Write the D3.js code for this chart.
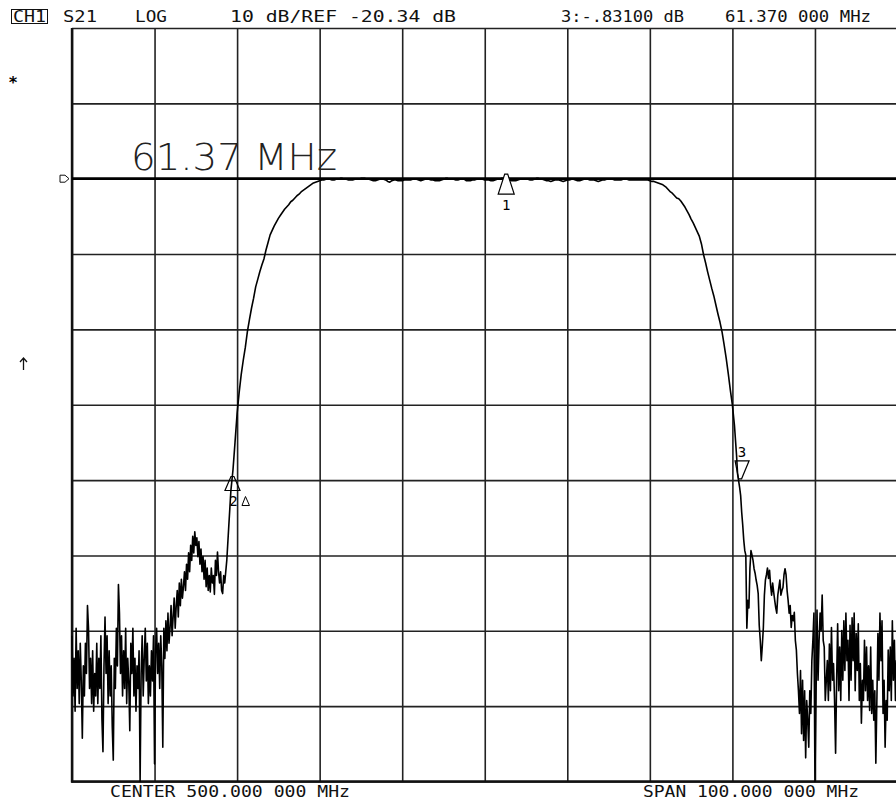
<!DOCTYPE html>
<html><head><meta charset="utf-8">
<script src="https://cdn.jsdelivr.net/npm/d3@7"></script>
<style>html,body{margin:0;padding:0;background:#fff;} svg{display:block;}</style>
</head><body>
<svg id="chart" width="896" height="804"></svg>
<script>
// ---- instrument settings ----
const startMHz = 450, stopMHz = 550;
const refLevelDb = -20.34, dbPerDiv = 10;
const topDb = -0.34, bottomDb = -100.34;

// ---- grid (10 x 10 divisions) ----
const xGridMHz = [450, 460, 470, 480, 490, 500, 510, 520, 530, 540, 550];
const yGridDb = [-0.34, -10.34, -20.34, -30.34, -40.34, -50.34, -60.34, -70.34, -80.34, -90.34, -100.34];

// ---- S21 trace (dB) in three sweep segments ----
// segment A: 450.000 .. 468.375 MHz, 0.125 MHz steps (stop-band noise + lower hump)
const leftStartMHz = 450, fineStepMHz = 0.125;
const leftNoiseDb = [
-81, -89, -84, -91, -80, -88, -83, -90, -82, -87,
-94.6, -85, -89, -82, -86, -77, -80, -88, -84, -90,
-83, -91, -86, -89, -82, -90, -84, -88, -81, -92,
-96.4, -85, -78.5, -86, -81, -90, -83, -89, -85, -93,
-97.5, -84, -88, -80, -85, -74.2, -78, -86, -81, -89,
-83, -88, -80, -90, -84, -87, -93.6, -82, -86, -80,
-89, -84, -91, -85, -88, -83, -100.5, -86, -81, -89,
-84, -80, -87, -82, -90, -85, -89, -83, -87, -81,
-98, -83, -80, -86, -82, -88, -81, -85, -95.8, -80,
-84, -79, -83, -78, -82, -80, -77, -81, -78.5, -76,
-80, -77, -75, -78.5, -74, -77, -73.5, -76, -74.5, -72.5,
-75, -71.5, -73.5, -70, -72.5, -69, -71, -67.8, -70, -67.2,
-69, -68, -70.5, -68.5, -71.5, -69.5, -72.5, -70.5, -73.5, -71,
-74.5, -72, -75, -73, -75.2, -72, -74, -73, -75.5, -71,
-73, -69.9, -72.5, -74, -72.5, -75, -75.4, -73
];
// segment B: 468.5 .. 530.5 MHz, 0.25 MHz steps (skirts + passband)
const mainStartMHz = 468.5, coarseStepMHz = 0.25;
const mainDb = [
-74,
-71.0, -66.3, -61.7, -59.0, -55.3, -51.5, -48.7, -46.3, -44.4, -42.7,
-40.6, -39.0, -37.5, -36.2, -34.7, -33.7, -32.7, -31.8, -31.0, -29.8,
-28.8, -27.8, -27.2, -26.6, -26.1, -25.6, -25.2, -24.8, -24.4, -24.1,
-23.8, -23.4, -23.2, -22.9, -22.6, -22.4, -22.1, -21.9, -21.7, -21.5,
-21.3, -21.1, -20.9, -20.8, -20.7, -20.6,
-20.5, -20.5, -20.4, -20.4, -20.4, -20.5, -20.5, -20.4, -20.4, -20.3,
-20.3, -20.4, -20.4, -20.5, -20.5, -20.5, -20.4, -20.4, -20.4, -20.3,
-20.3, -20.3, -20.4, -20.4, -20.5, -20.6, -20.6, -20.5, -20.4, -20.4,
-20.4, -20.5, -20.7, -20.8, -20.6, -20.5, -20.5, -20.6, -20.6, -20.6,
-20.5, -20.5, -20.5, -20.5, -20.4, -20.4, -20.4, -20.5, -20.6, -20.5,
-20.4, -20.4, -20.4, -20.5, -20.5, -20.6, -20.6, -20.6, -20.5, -20.4,
-20.3, -20.3, -20.4, -20.4, -20.4, -20.5, -20.5, -20.4, -20.4, -20.4,
-20.6, -20.6, -20.6, -20.5, -20.5, -20.4, -20.4, -20.4, -20.4, -20.5,
-20.5, -20.5, -20.6, -20.6, -20.5, -20.4, -20.4, -20.3, -20.3, -20.4,
-20.4, -20.5, -20.6, -20.6, -20.6, -20.5, -20.4, -20.4, -20.4, -20.4,
-20.4, -20.5, -20.5, -20.4, -20.3, -20.3, -20.4, -20.4, -20.5, -20.6,
-20.6, -20.7, -20.6, -20.5, -20.5, -20.5, -20.6, -20.7, -20.6, -20.5,
-20.5, -20.4, -20.4, -20.5, -20.6, -20.6, -20.5, -20.4, -20.4, -20.4,
-20.5, -20.5, -20.5, -20.6, -20.7, -20.6, -20.5, -20.5, -20.4, -20.4,
-20.4, -20.4, -20.5, -20.5, -20.5, -20.5, -20.4, -20.4, -20.4, -20.5,
-20.5, -20.5, -20.5, -20.5, -20.5, -20.5, -20.5, -20.5, -20.5,
-20.6, -20.7, -20.7, -20.8, -20.9, -21.0, -21.1, -21.3, -21.5, -21.8,
-22.1, -22.3, -22.6, -22.9, -23.0, -23.3, -23.7, -24.1, -24.6, -25.1,
-25.7, -26.2, -26.8, -27.4, -28.0, -29.0, -30.4, -31.5, -32.7, -33.8,
-34.9, -35.9, -37.1, -38.3, -39.4, -40.7, -42.4, -44.2, -46.2, -48.4,
-50.4, -53.1, -57.0
];
// segment C: 530.625 .. 550.000 MHz, 0.125 MHz steps (upper skirt tail + stop-band noise)
const rightStartMHz = 530.625;
const rightNoiseDb = [
-59.5, -60.4, -61.3, -62.4, -64.6, -66.3, -68.3, -69.7, -70.3, -80.0,
-76.3, -77.3, -72.0, -69.7, -70.3, -71.0, -72.1, -72.7, -73.6, -74.3,
-75.4, -79.6, -81.6, -84.3, -82.3, -79.9, -75.6, -73.6, -72.9, -72.0,
-73.4, -72.3, -74.3, -75.6, -74.0, -75.2, -76.3, -77.3, -78.0, -75.6,
-74.6, -73.6, -75.6, -75.0, -74.6, -72.9, -72.1, -72.9, -75.0, -76.3,
-78.0, -77.0, -79.9, -78.3, -79.0, -77.9, -81.6, -82.9, -86.0, -88.3,
-91.3, -85.6, -94.0, -86.9, -94.9, -88.3, -97.2, -89.6, -92.2, -95.8,
-88.3, -91.3, -84.3, -81.6, -78.0, -101, -89.6, -77.6, -86.9, -81.6,
-78.0, -80.3, -75.6, -81.6, -82.5, -89.6, -86.9, -84.3, -89.6, -82.1,
-88.3, -79.9, -86.9, -84.7, -89.6, -96.6, -86.9, -79.4, -88.3, -82.5,
-89.6, -80.3, -86.9, -79.0, -85.6, -78.0, -84.3, -81.6, -89.6, -79.6,
-86.9, -78.6, -84.3, -78.0, -88.3, -80.7, -85.6, -79.4, -89.6, -84.7,
-92.6, -86.9, -89.6, -81.6, -88.3, -82.5, -89.6, -85.0, -90.9, -82.5,
-91.3, -86.9, -92.2, -88.3, -97.9, -89.6, -80.7, -86.9, -78.0, -84.3,
-79.0, -91.3, -86.9, -95.8, -89.6, -92.2, -82.9, -88.3, -82.5, -89.6,
-79.0, -86.9, -81.6, -89.6, -84.3, -88.3
];

// ---- markers ----
const markerIds = ["1", "2", "3"];
const markerMHz = [502.6, 469.44, 530.81];
const markerDb = [-20.4, -59.6, -60.43];

// ---- annotation texts ----
const channelText = "CH1";
const headerTexts = ["S21", "LOG", "10 dB/REF -20.34 dB", "3:-.83100 dB", "61.370 000 MHz"];
const footerTexts = ["CENTER 500.000 000 MHz", "SPAN 100.000 000 MHz"];
const markerReadout = "61.37 MHz";

// ================= drawing =================
const W = 896, H = 804;
const L = 72, R = 897.5, T = 28, B = 781.5;
const svg = d3.select("#chart");
svg.append("rect").attr("width", W).attr("height", H).attr("fill", "#fff");

const x = d3.scaleLinear().domain([startMHz, stopMHz]).range([L, R]);
const y = d3.scaleLinear().domain([bottomDb, topDb]).range([B, T]).clamp(true);

const mono = "'DejaVu Sans Mono', 'Liberation Mono', monospace";

// grid
const gx = svg.append("g").attr("transform", `translate(0,${B})`)
  .call(d3.axisBottom(x).tickValues(xGridMHz).tickSize(-(B - T)).tickFormat(""));
gx.select(".domain").remove();
gx.selectAll("line").attr("stroke", "#222").attr("stroke-width", 1.6);

const gy = svg.append("g").attr("transform", `translate(${L},0)`)
  .call(d3.axisLeft(y).tickValues(yGridDb).tickSize(-(R - L)).tickFormat(""));
gy.select(".domain").remove();
gy.selectAll("line").attr("stroke", "#222").attr("stroke-width", 1.6);

// heavier left & bottom frame
svg.append("line").attr("x1", L).attr("x2", L).attr("y1", T).attr("y2", B + 1)
  .attr("stroke", "#111").attr("stroke-width", 2.4);
svg.append("line").attr("x1", L - 1).attr("x2", R).attr("y1", B).attr("y2", B)
  .attr("stroke", "#111").attr("stroke-width", 2.4);

// reference line
const ry = y(refLevelDb);
svg.append("line").attr("x1", L).attr("x2", R).attr("y1", ry).attr("y2", ry)
  .attr("stroke", "#000").attr("stroke-width", 2.8);

// reference position flag
svg.append("path")
  .attr("d", `M60,${ry - 3.5} L65,${ry - 3.5} L69,${ry} L65,${ry + 3.5} L60,${ry + 3.5} Z`)
  .attr("fill", "none").attr("stroke", "#111").attr("stroke-width", 1);

// trace
const pts = [].concat(
  leftNoiseDb.map((v, j) => ({ f: leftStartMHz + j * fineStepMHz, db: v })),
  mainDb.map((v, i) => ({ f: mainStartMHz + i * coarseStepMHz, db: v })),
  rightNoiseDb.map((v, k) => ({ f: rightStartMHz + k * fineStepMHz, db: v }))
);
svg.append("path").datum(pts)
  .attr("d", d3.line().x(d => x(d.f)).y(d => y(d.db)))
  .attr("fill", "none").attr("stroke", "#000").attr("stroke-width", 1.6)
  .attr("stroke-linejoin", "round");

// markers
markerIds.forEach((id, k) => {
  const mx = x(markerMHz[k]), my = y(markerDb[k]);
  const g = svg.append("g");
  if (id === "1") {
    g.append("path").attr("d", `M${mx - 1.5},${my - 5} L${mx + 1.5},${my - 5} L${mx + 8},${my + 15} L${mx - 8},${my + 15} Z`)
      .attr("fill", "#fff").attr("stroke", "#000").attr("stroke-width", 1.2);
    g.append("text").attr("x", mx).attr("y", my + 31).attr("text-anchor", "middle")
      .attr("font-family", mono).attr("font-size", 14).text(id);
  } else if (id === "2") {
    g.append("path").attr("d", `M${mx - 1.5},${my + 2} L${mx + 1.5},${my + 2} L${mx + 7.5},${my + 16} L${mx - 7.5},${my + 16} Z`)
      .attr("fill", "none").attr("stroke", "#000").attr("stroke-width", 1.2);
    g.append("text").attr("x", mx + 1).attr("y", my + 31).attr("text-anchor", "middle")
      .attr("font-family", mono).attr("font-size", 14).text(id);
    g.append("path").attr("d", `M${mx + 13},${my + 22} L${mx + 9.5},${my + 31} L${mx + 17},${my + 31} Z`)
      .attr("fill", "none").attr("stroke", "#000").attr("stroke-width", 1);
  } else {
    g.append("path").attr("d", `M${mx - 4},${my - 20} L${mx + 10},${my - 20} L${mx + 2.5},${my - 2} L${mx - 0.5},${my - 2} Z`)
      .attr("fill", "none").attr("stroke", "#000").attr("stroke-width", 1.2);
    g.append("text").attr("x", mx + 3).attr("y", my - 24).attr("text-anchor", "middle")
      .attr("font-family", mono).attr("font-size", 14).text(id);
  }
});

// large readout text
svg.append("text").attr("x", 131).attr("y", 170)
  .attr("font-family", "'DejaVu Sans', sans-serif").attr("font-weight", 200)
  .attr("font-size", 37).attr("textLength", 206).attr("lengthAdjust", "spacingAndGlyphs")
  .attr("fill", "#222").text(markerReadout);

// header
svg.append("rect").attr("x", 11.5).attr("y", 9.5).attr("width", 36).attr("height", 14)
  .attr("fill", "none").attr("stroke", "#111").attr("stroke-width", 1);
svg.append("text").attr("x", 13).attr("y", 22).attr("font-family", mono).attr("font-size", 15)
  .attr("textLength", 33).attr("lengthAdjust", "spacingAndGlyphs").attr("fill", "#111").text(channelText);

const headerX = [63, 135, 230, 561, 725];
const headerLen = [34, 32, 226, 123, 146];
headerTexts.forEach((t, i) => {
  svg.append("text").attr("x", headerX[i]).attr("y", 22)
    .attr("font-family", mono).attr("font-size", 15)
    .attr("textLength", headerLen[i]).attr("lengthAdjust", "spacingAndGlyphs")
    .attr("fill", "#111").text(t);
});

const footerX = [110, 643];
const footerLen = [240, 216];
footerTexts.forEach((t, i) => {
  svg.append("text").attr("x", footerX[i]).attr("y", 797)
    .attr("font-family", mono).attr("font-size", 16)
    .attr("textLength", footerLen[i]).attr("lengthAdjust", "spacingAndGlyphs")
    .attr("fill", "#111").text(t);
});

// side annotations
svg.append("text").attr("x", 13).attr("y", 88).attr("text-anchor", "middle")
  .attr("font-family", mono).attr("font-size", 16).attr("font-weight", "bold").text("*");
svg.append("path").attr("d", "M23.5,358 L23.5,370 M20,362 L23.5,358 L27,362")
  .attr("fill", "none").attr("stroke", "#111").attr("stroke-width", 1.3);
</script></body></html>
